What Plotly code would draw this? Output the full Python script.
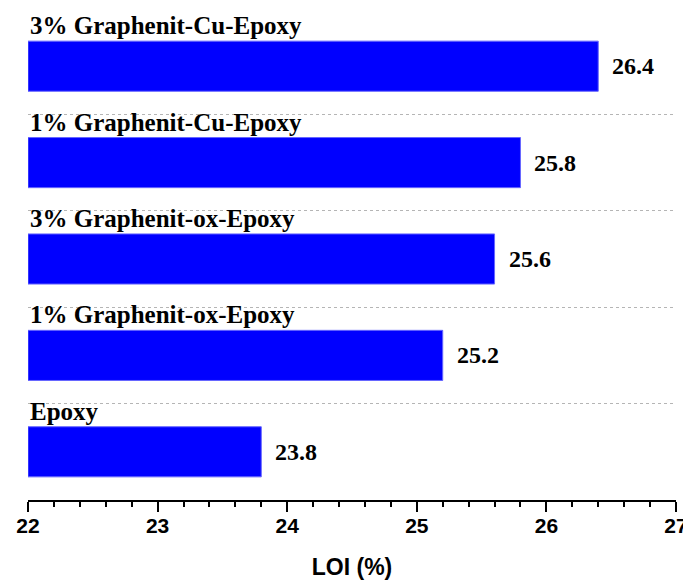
import plotly.graph_objects as go

categories = ["Epoxy", "1% Graphenit-ox-Epoxy", "3% Graphenit-ox-Epoxy",
              "1% Graphenit-Cu-Epoxy", "3% Graphenit-Cu-Epoxy"]
loi_values = [23.8, 25.2, 25.6, 25.8, 26.4]
x_tick_values = [22, 23, 24, 25, 26, 27]

pos = list(range(len(categories)))

fig = go.Figure()
fig.add_trace(go.Bar(
    x=[v - 22 for v in loi_values], base=22, y=pos, orientation="h",
    width=0.52,
    marker=dict(color="#0000FF", line=dict(color="#6666FF", width=1)),
    hoverinfo="skip",
))

annotations = []
for p, c, v in zip(pos, categories, loi_values):
    annotations.append(dict(
        x=22, y=p + 0.42, xref="x", yref="y", text=f"<b>{c}</b>",
        showarrow=False, xanchor="left", yanchor="middle", xshift=0,
        font=dict(family="Liberation Serif", size=25, color="black")))
    annotations.append(dict(
        x=v, y=p, xref="x", yref="y", text=f"<b>{v}</b>",
        showarrow=False, xanchor="left", yanchor="middle", xshift=12,
        font=dict(family="Liberation Serif", size=24, color="black")))

fig.update_layout(
    width=683, height=572,
    margin=dict(l=20, r=15, t=10, b=80),
    plot_bgcolor="white", paper_bgcolor="white",
    showlegend=False,
    annotations=annotations,
    xaxis=dict(
        range=[22, 27], tickvals=x_tick_values, ticktext=[str(t) for t in x_tick_values],
        automargin=False,
        showgrid=False, zeroline=False,
        showline=True, linecolor="black", linewidth=2,
        ticks="outside", ticklen=10, tickwidth=2, tickcolor="black",
        minor=dict(dtick=0.2, tick0=22, ticks="outside", ticklen=5, tickwidth=2, tickcolor="black", showgrid=False),
        tickfont=dict(family="Liberation Sans", size=21, color="black", weight="bold"),
        ticklabelstandoff=-4,
        title=dict(text="<b>LOI (%)</b>", font=dict(family="Liberation Sans", size=23, color="black"), standoff=26),
    ),
    yaxis=dict(
        range=[-0.5, 4.5], tickvals=[0.5, 1.5, 2.5, 3.5], showticklabels=False,
        automargin=False,
        showgrid=True, gridcolor="#b5b5b5", gridwidth=1, griddash="dot",
        zeroline=False, showline=False, ticks="",
    ),
)

fig.write_html("out.html")
